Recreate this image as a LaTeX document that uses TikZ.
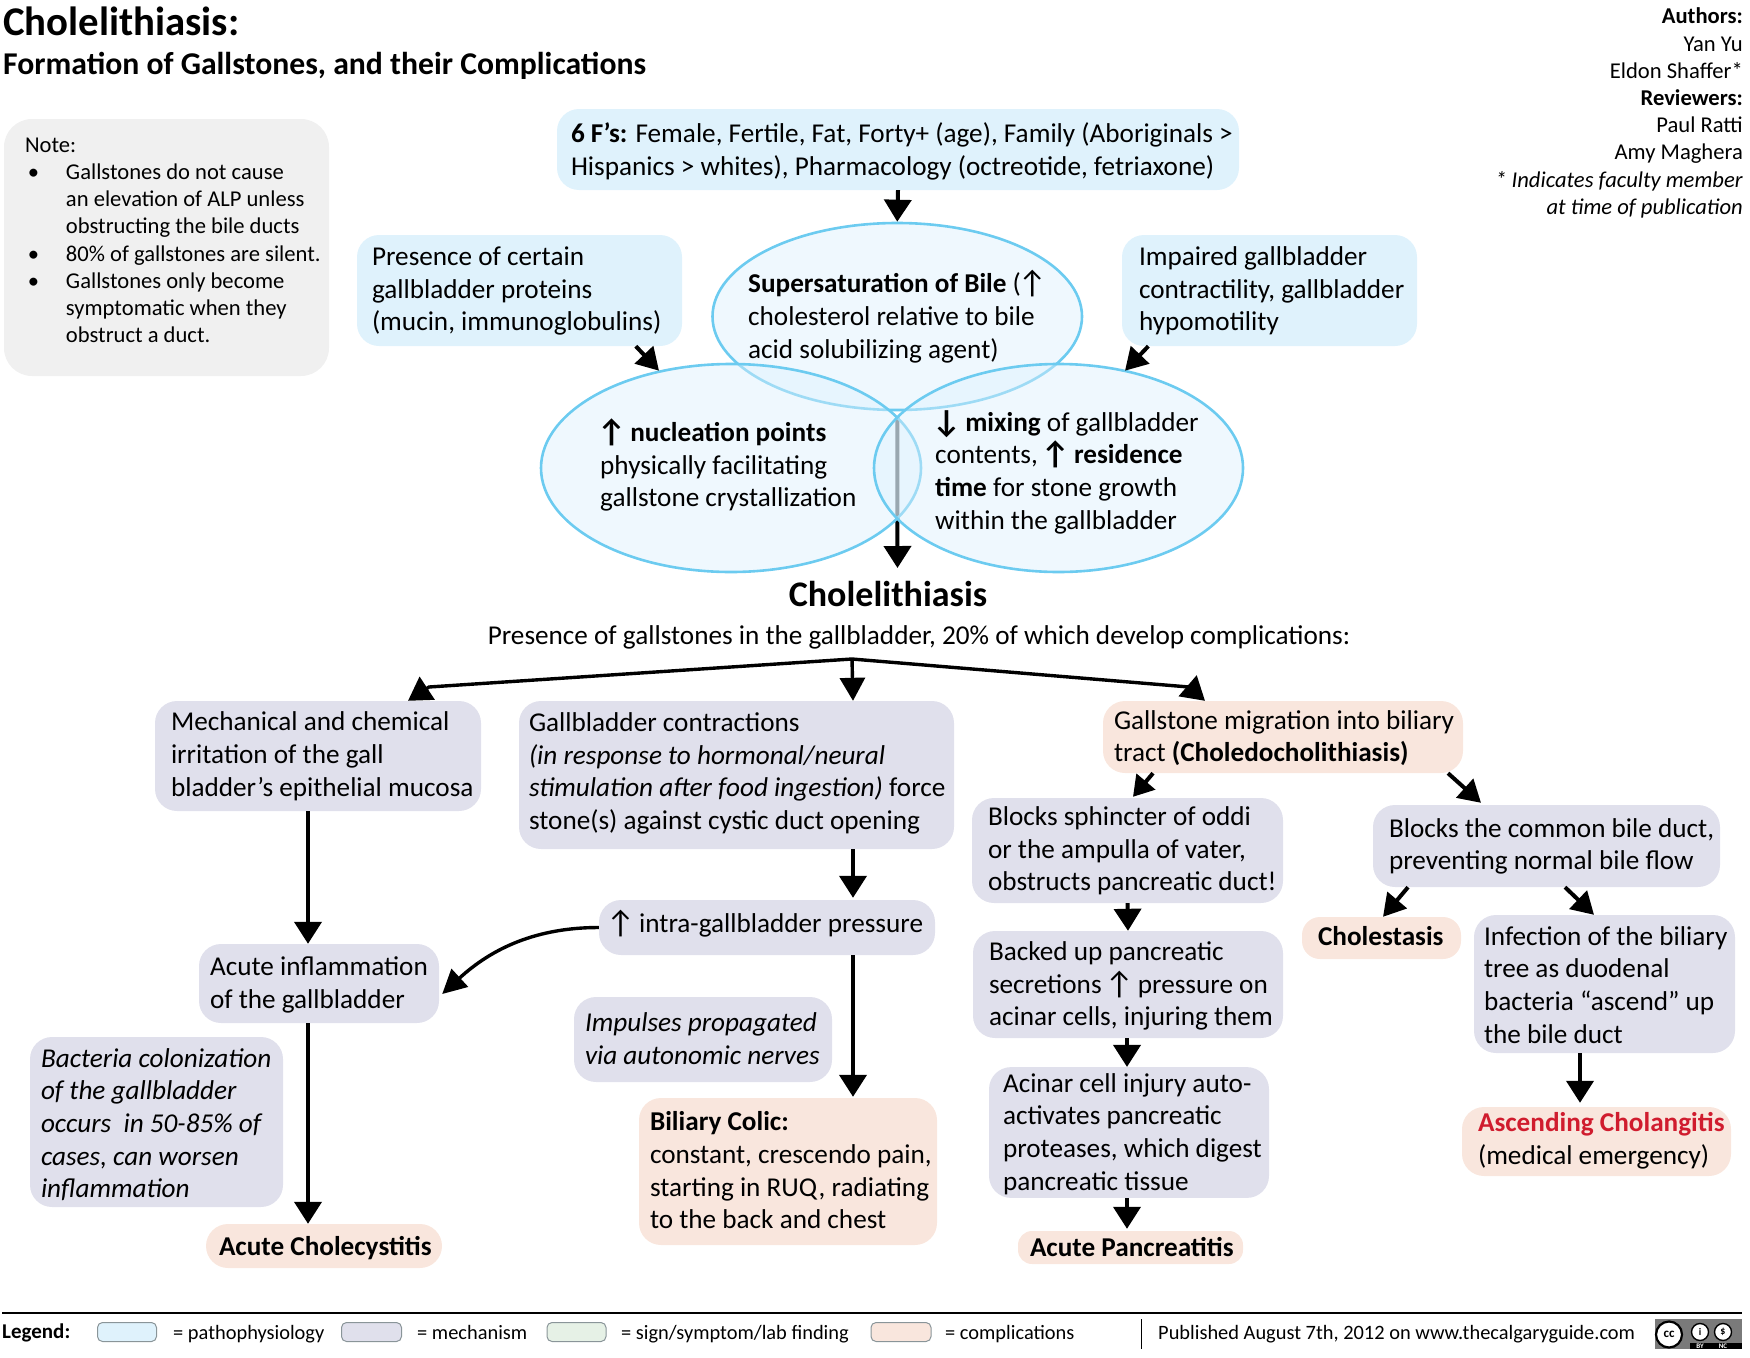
\documentclass[tikz,border=0pt]{standalone}
\usepackage{fontspec}
\setmainfont{Carlito}
\usetikzlibrary{arrows.meta,shapes.geometric}
\definecolor{patho}{HTML}{DFF2FC}
\definecolor{mech}{HTML}{E0E0EC}
\definecolor{sign}{HTML}{E6F1E6}
\definecolor{compl}{HTML}{F9E6DD}
\definecolor{notegrey}{HTML}{F0F0F0}
\definecolor{ellline}{HTML}{6CCBF0}
\definecolor{ellfill}{HTML}{DCF0FD}
\definecolor{redtxt}{HTML}{D01C2E}
\definecolor{legline}{HTML}{8A9599}
\definecolor{badgegrey}{HTML}{7A7A7A}
\pgfdeclarelayer{bg}\pgfsetlayers{bg,main}
\newcommand\upa{\kern-3pt\raisebox{-1pt}[0pt][0pt]{\fontsize{32}{32}\selectfont ↑}\kern-2pt}
\newcommand\dna{\kern-3pt\raisebox{-1pt}[0pt][0pt]{\fontsize{32}{32}\selectfont ↓}\kern-2pt}
\newcommand\bx[9]{%
 \pgfmathsetmacro\bxw{#5-#3}\pgfmathsetmacro\bxh{#6-#4}%
 \pgfmathsetmacro\bxcx{(#3+#5)/2}\pgfmathsetmacro\bxcy{(#4+#6)/2}%
 \node[#2,minimum width=\bxw pt,minimum height=\bxh pt] (#1) at (\bxcx,\bxcy) {\makebox[\bxw pt][l]{\hspace*{#7pt}\raisebox{#8pt}[\height][\depth]{\begin{tabular}{@{}l@{}}#9\end{tabular}}}};}
\tikzset{
 body/.style={font=\fontsize{27.2}{32.7}\selectfont},
 boxbase/.style={body,rounded corners=22pt,inner sep=0pt},
 pbox/.style={boxbase,fill=patho},
 mbox/.style={boxbase,fill=mech},
 cbox/.style={boxbase,fill=compl},
 nbox/.style={rounded corners=28pt,inner sep=0pt,fill=notegrey,font=\fontsize{22.6}{27.2}\selectfont},
 ell/.style={ellipse,draw=ellline,fill=ellfill,fill opacity=.45,line width=2.6pt,inner sep=0pt},
 etext/.style={body,inner sep=0pt,anchor=west,align=left},
 arr/.style={line width=4pt,-{Triangle[length=22pt,width=27pt]}},
 thinarr/.style={line width=3.4pt,-{Triangle[length=23pt,width=27pt]}},
 small/.style={inner sep=0pt,font=\fontsize{20.4}{25}\selectfont},
 legbox/.style={rounded corners=5pt,draw=legline,line width=1pt,minimum width=59pt,minimum height=19pt,inner sep=0pt},
 ccw/.style={circle,fill=white,draw=black,inner sep=0pt},
 cctxt/.style={inner sep=0pt,text=white,font=\fontsize{7}{7}\selectfont\bfseries},
}
\begin{document}
\begin{tikzpicture}[x=1pt,y=-1pt]
\path[use as bounding box] (0,0) rectangle (1750,1357);

% titles
\node[anchor=base west,inner sep=0pt,font=\fontsize{40.8}{44}\selectfont\bfseries] (title) at (3,35) {Cholelithiasis:};
\node[anchor=base west,inner sep=0pt,font=\fontsize{31.7}{36}\selectfont\bfseries] (subtitle) at (3,74) {Formation of Gallstones, and their Complications};
\node[anchor=east,inner sep=0pt,align=right,font=\fontsize{22.6}{27.2}\selectfont] (authors) at (1743,113) {\textbf{Authors:}\\Yan Yu\\Eldon Shaffer*\\\textbf{Reviewers:}\\Paul Ratti\\Amy Maghera\\\textit{* Indicates faculty member}\\\textit{at time of publication}};

% note
\bx{note}{nbox}{4}{119}{329}{376}{21}{5.5}{Note:\\\makebox[41pt][l]{\hspace*{3pt}•}Gallstones do not cause\\\hspace*{41pt}an elevation of ALP unless\\\hspace*{41pt}obstructing the bile ducts\\\makebox[41pt][l]{\hspace*{3pt}•}80\% of gallstones are silent.\\\makebox[41pt][l]{\hspace*{3pt}•}Gallstones only become\\\hspace*{41pt}symptomatic when they\\\hspace*{41pt}obstruct a duct.}

% top boxes
\bx{fsix}{pbox}{557}{109}{1239}{190}{14}{-3.3}{\textbf{6 F’s:} Female, Fertile, Fat, Forty+ (age), Family (Aboriginals >\\Hispanics > whites), Pharmacology (octreotide, fetriaxone)}
\bx{prot}{pbox}{357}{235}{682}{346}{15}{-1}{Presence of certain\\gallbladder proteins\\(mucin, immunoglobulins)}
\bx{impair}{pbox}{1122}{235}{1417}{346}{17}{-1}{Impaired gallbladder\\contractility, gallbladder\\hypomotility}

% ellipses
\node[ell,minimum width=369.5pt,minimum height=187pt] (etop) at (897.25,316.5) {};
\node[ell,minimum width=380pt,minimum height=208pt] (eleft) at (731,468) {};
\node[ell,minimum width=369pt,minimum height=208pt] (eright) at (1058.5,468) {};
\node[etext] (ttop) at (748,318) {\textbf{Supersaturation of Bile} (\upa\\cholesterol relative to bile\\acid solubilizing agent)};
\node[etext] (tleft) at (600,467) {\textbf{\upa\ nucleation points}\\physically facilitating\\gallstone crystallization};
\node[etext] (tright) at (935,473) {\textbf{\dna\ mixing} of gallbladder\\contents, \textbf{\upa\ residence}\\\textbf{time} for stone growth\\within the gallbladder};

% heading
\node[anchor=base,inner sep=0pt,font=\fontsize{36}{40}\selectfont\bfseries] (chead) at (888,606) {Cholelithiasis};
\node[anchor=base,inner sep=0pt,body] (csub) at (919,644) {Presence of gallstones in the gallbladder, 20\% of which develop complications:};
\coordinate (apex) at (852,659);
\coordinate (lbend) at (429,687);
\coordinate (rbend) at (1189,687);
\coordinate (maintip) at (897.5,568);

% left column
\bx{mechbox}{mbox}{155}{701}{481}{811}{16}{-1}{Mechanical and chemical\\irritation of the gall\\bladder’s epithelial mucosa}
\bx{acute}{mbox}{199}{944}{439}{1023}{11}{-2}{Acute inflammation\\of the gallbladder}
\bx{bact}{mbox}{30}{1037}{283}{1207}{11}{-4}{\textit{Bacteria colonization}\\\textit{of the gallbladder}\\\textit{occurs ~in 50-85\% of}\\\textit{cases, can worsen}\\\textit{inflammation}}
\bx{chole}{cbox}{206}{1224}{442}{1268}{13}{-3}{\textbf{Acute Cholecystitis}}

% middle column
\bx{gall}{mbox}{519}{701}{954}{849}{10}{1}{Gallbladder contractions\\\textit{(in response to hormonal/neural}\\\textit{stimulation after food ingestion)} force\\stone(s) against cystic duct opening}
\bx{intra}{mbox}{599}{900}{935}{955}{10}{2}{\upa\ intra-gallbladder pressure}
\bx{impulse}{mbox}{574}{997}{832}{1082}{11}{-2}{\textit{Impulses propagated}\\\textit{via autonomic nerves}}
\bx{colic}{cbox}{639}{1098}{937}{1245}{11}{-1.7}{\textbf{Biliary Colic:}\\constant, crescendo pain,\\starting in RUQ, radiating\\to the back and chest}

% right columns
\bx{migr}{cbox}{1103}{701}{1463}{773}{11}{-2}{Gallstone migration into biliary\\tract \textbf{(Choledocholithiasis)}}
\bx{sphin}{mbox}{972}{798}{1283}{903}{16}{-1}{Blocks sphincter of oddi\\or the ampulla of vater,\\obstructs pancreatic duct!}
\bx{backed}{mbox}{973}{931}{1283}{1038}{16}{-2}{Backed up pancreatic\\secretions \upa\ pressure on\\acinar cells, injuring them}
\bx{acinar}{mbox}{989}{1069}{1269}{1196}{14}{-2}{Acinar cell injury auto-\\activates pancreatic\\proteases, which digest\\pancreatic tissue}
\bx{panc}{cbox,rounded corners=14pt}{1018}{1231}{1243}{1264}{12}{-2}{\textbf{Acute Pancreatitis}}
\bx{common}{mbox}{1373}{805}{1720}{887}{16}{-1}{Blocks the common bile duct,\\preventing normal bile flow}
\bx{cholest}{cbox,rounded corners=18pt}{1302}{917}{1461}{959}{16}{-1}{\textbf{Cholestasis}}
\bx{infect}{mbox}{1474}{915}{1735}{1053}{10}{-3.5}{Infection of the biliary\\tree as duodenal\\bacteria “ascend” up\\the bile duct}
\bx{ascend}{cbox}{1462}{1107}{1731}{1176}{16}{0}{\textcolor{redtxt}{\textbf{Ascending Cholangitis}}\\(medical emergency)}

% connectors
\begin{pgfonlayer}{bg}
\draw[arr] ([yshift=-6pt]etop.south) -- (maintip);
\end{pgfonlayer}
\draw[arr] (fsix.south) -- (etop.north);
\draw[arr,-{Triangle[length=22pt,width=25pt]}] ([xshift=279pt]prot.south west) -- ([xshift=-72pt,yshift=-8pt]eleft.north);
\draw[arr,-{Triangle[length=22pt,width=25pt]}] ([xshift=26.5pt]impair.south west) -- ([xshift=66.5pt,yshift=-8pt]eright.north);
\draw[thinarr] (apex) -- (lbend) -- ([xshift=90pt]mechbox.north);
\draw[thinarr,-{Triangle[length=23pt,width=25pt]}] (apex) -- ([xshift=116.5pt]gall.north);
\draw[thinarr] (apex) -- (rbend) -- ([xshift=-78pt]migr.north);
\draw[arr] ([xshift=-10pt]mechbox.south) -- ([xshift=-11pt]acute.north);
\draw[arr] ([xshift=-11pt]acute.south) -- ([xshift=-16pt]chole.north);
\draw[arr] ([xshift=116.5pt]gall.south) -- ([xshift=86pt,yshift=2pt]intra.north);
\draw[arr] ([xshift=86pt]intra.south) -- ([xshift=65pt,yshift=1pt]colic.north);
\draw[line width=3.4pt,-{Triangle[length=24pt,width=24pt]}] (intra.west) .. controls +(-62,0) and +(50,-46) .. ([xshift=3pt,yshift=-10.5pt]acute.east);
\draw[arr,-{Triangle[length=20pt,width=24pt]}] ([xshift=-130pt]migr.south) -- ([xshift=5.5pt,yshift=1pt]sphin.north);
\draw[arr,-{Triangle[length=22pt,width=25pt]}] ([xshift=165pt]migr.south) -- ([xshift=-65.5pt,yshift=2pt]common.north);
\draw[arr] (sphin.south) -- (backed.north);
\draw[arr] ([xshift=-1pt]backed.south) -- ([xshift=-2pt]acinar.north);
\draw[arr] ([xshift=-2pt]acinar.south) -- ([xshift=-3.5pt,yshift=2pt]panc.north);
\draw[arr,-{Triangle[length=22pt,width=25pt]}] ([xshift=-138.5pt]common.south) -- ([xshift=1.5pt]cholest.north);
\draw[arr,-{Triangle[length=22pt,width=25pt]}] ([xshift=18.5pt]common.south) -- ([xshift=-10.5pt]infect.north);
\draw[arr] ([xshift=-24.5pt]infect.south) -- ([xshift=-16.5pt,yshift=4pt]ascend.north);

% legend
\coordinate (ruleL) at (2,1313);
\coordinate (ruleR) at (1742,1313);
\draw[line width=2.6pt] (ruleL) -- (ruleR);
\node[anchor=base west,small,font=\fontsize{21}{25}\selectfont\bfseries] (legend) at (2,1338) {Legend:};
\node[legbox,fill=patho] (lg1) at (127,1332) {};
\node[anchor=base west,small] (lt1) at (173,1339) {= pathophysiology};
\node[legbox,fill=mech,minimum width=60pt] (lg2) at (371.5,1332) {};
\node[anchor=base west,small] (lt2) at (417,1339) {= mechanism};
\node[legbox,fill=sign] (lg3) at (576.5,1332) {};
\node[anchor=base west,small] (lt3) at (621,1339) {= sign/symptom/lab finding};
\node[legbox,fill=compl,minimum width=60pt] (lg4) at (901,1332) {};
\node[anchor=base west,small] (lt4) at (945,1339) {= complications};
\coordinate (sepT) at (1141,1319);
\coordinate (sepB) at (1141,1349);
\draw[line width=1pt] (sepT) -- (sepB);
\node[anchor=base west,small] (pub) at (1158,1339) {Published August 7th, 2012 on www.thecalgaryguide.com};

% licence badge
\node[fill=badgegrey,minimum width=87pt,minimum height=30pt,inner sep=0pt] (badge) at (1698.5,1334) {};
\node[fill=black,minimum width=52pt,minimum height=6pt,inner sep=0pt,anchor=south east] (strip) at (badge.south east) {};
\node[ccw,line width=2.2pt,minimum size=26pt,font=\fontsize{13}{13}\selectfont\bfseries] (cc) at (1669,1334.5) {cc};
\node[ccw,line width=1.4pt,minimum size=17pt,font=\fontsize{10}{10}\selectfont\bfseries] (by) at (1700,1332) {i};
\node[ccw,line width=1.4pt,minimum size=17pt,font=\fontsize{10}{10}\selectfont\bfseries] (nc) at (1723,1332) {\$};
\node[cctxt] (bytxt) at (1700,1346) {BY};
\node[cctxt] (nctxt) at (1723,1346) {NC};
\end{tikzpicture}
\end{document}
